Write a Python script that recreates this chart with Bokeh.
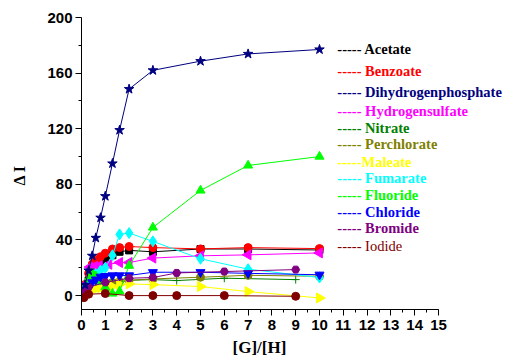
import math
from bokeh.plotting import figure
from bokeh.models import Range1d, FixedTicker, Label, Title
from bokeh.embed import file_html
from bokeh.resources import INLINE

# Equivalents of guest added, [G]/[H]
x_main = [0.15, 0.3, 0.45, 0.6, 0.8, 1.0, 1.3, 1.6, 2, 3, 5, 7, 10]
x_hso4 = [0.15, 0.35, 0.55, 0.75, 1.15, 1.6, 2, 3, 5, 7, 10]
x_halide = [0.1, 0.3, 1, 2, 3, 4, 6, 9]

# Fluorescence change, delta I
acetate = [6, 11, 15, 20, 23, 26, 29, 31.5, 32.5, 31.5, 33.5, 33.5, 32.8]
benzoate = [8, 16, 22.5, 25.5, 28, 30.5, 33.5, 34.5, 35.3, 34.5, 33.6, 34.5, 33.8]
dihydrogenphosphate = [7.7, 18, 28.6, 41.5, 56, 71.5, 95, 119, 148.5, 162, 168.6, 173.8, 177]
hydrogensulfate = [8, 20.5, 21, 21.5, 22.5, 23.8, 23.8, 27, 28.6, 29.3, 30.7]
nitrate = [1.5, 4, 7.5, 11, 11.5, 10.8, 12.5, 11.5]
perchlorate = [2, 4, 5.5, 7, 8, 9, 9.5, 10, 11, 12, 13.2, 14.6, 13.9]
maleate = [1.5, 3, 4, 5, 5.5, 6, 6.5, 8, 8.4, 7.9, 6.5, 2.9, -1.7]
fumarate = [6, 10.5, 13, 15.5, 18, 20, 29, 44, 45, 39, 26.5, 19, 13]
fluoride = [5, 12, 16, 14, 10, 6, 1.5, 3, 21.5, 49, 75.6, 93.6, 100]
chloride = [4, 7, 9.5, 11.5, 13.5, 14, 14.5, 14.5, 14.5, 16.8, 16.8, 16, 15]
bromide = [3, 6, 9.5, 12.5, 13, 16.3, 17.3, 18.7]
iodide = [-1.5, 1, 1.5, 0, 0, 0, 0, -0.5]

x_ticks = list(range(0, 16))
y_ticks = [0, 40, 80, 120, 160, 200]

# (label, x, y, colour, marker, size, angle)
series = [
    ("Acetate", x_main, acetate, "#000000", "square", 7, 0),
    ("Benzoate", x_main, benzoate, "#FF0000", "circle", 8, 0),
    ("Hydrogensulfate", x_hso4, hydrogensulfate, "#FF00FF", "triangle", 10, math.pi / 2),
    ("Nitrate", x_halide, nitrate, "#008000", "cross", 8, 0),
    ("Perchlorate", x_main, perchlorate, "#808000", "circle", 8, 0),
    ("Maleate", x_main, maleate, "#FFFF00", "triangle", 10, -math.pi / 2),
    ("Fumarate", x_main, fumarate, "#00FFFF", "diamond", 11, 0),
    ("Fluoride", x_main, fluoride, "#00FF00", "triangle", 9, 0),
    ("Chloride", x_main, chloride, "#0000FF", "inverted_triangle", 9, 0),
    ("Bromide", x_halide, bromide, "#800080", "hex", 8, 0),
    ("Iodide", x_halide, iodide, "#800000", "circle", 8, 0),
    ("Dihydrogenphosphate", x_main, dihydrogenphosphate, "#000080", "star", 10, 0),
]

# The frame runs to the right edge so the text legend has room;
# the x axis itself stops at 15.
x_end = 15 * (506 - 81) / (438 - 81)
p = figure(width=506, height=362, output_backend="svg", toolbar_location=None,
           x_range=Range1d(0, x_end), y_range=Range1d(-10, 200),
           min_border_left=81, min_border_right=0, min_border_top=17, min_border_bottom=53)
p.outline_line_color = None
p.grid.visible = False
p.background_fill_color = "white"
p.border_fill_color = "white"

for name, xs, ys, color, marker, size, angle in series:
    p.line(xs, ys, line_color=color, line_width=1)
    p.scatter(xs, ys, marker=marker, size=size, angle=angle,
              fill_color=color, line_color=color, line_width=1)

for ax in (p.xaxis[0], p.yaxis[0]):
    ax.axis_line_color = "black"
    ax.axis_line_width = 1
    ax.major_tick_out = 6
    ax.major_tick_in = 0
    ax.minor_tick_out = 3
    ax.minor_tick_in = 0
    ax.major_label_text_font = "Liberation Sans"
    ax.major_label_text_font_style = "bold"
    ax.major_label_text_font_size = "15px"
    ax.major_label_text_color = "black"

p.xaxis.bounds = (0, 15)
p.xaxis.ticker = FixedTicker(ticks=x_ticks, minor_ticks=[i / 2 for i in range(0, 31)])
p.yaxis.ticker = FixedTicker(ticks=y_ticks, minor_ticks=[20, 60, 100, 140, 180])
p.xaxis.major_label_standoff = 4
p.yaxis.major_label_standoff = 3

p.add_layout(Title(text="[G]/[H]", align="left", offset=151, standoff=7,
                   text_font="Liberation Serif", text_font_style="bold",
                   text_font_size="17px", text_color="black"), "below")
# blank spacer between the tick labels and the y-axis title
p.add_layout(Title(text=" ", standoff=0, text_font_size="13px"), "left")
p.add_layout(Title(text="\u0394 I", align="left", offset=124, standoff=0,
                   text_font="Liberation Serif", text_font_style="bold",
                   text_font_size="16px", text_color="black"), "left")

# Coloured text legend: label, prefix, colour, weight, y position
legend_rows = [
    ("Acetate", "----- ", "#000000", "bold", 177.5),
    ("Benzoate", "----- ", "#FF0000", "bold", 161.4),
    ("Dihydrogenphosphate", "----- ", "#000080", "bold", 146.3),
    ("Hydrogensulfate", "----- ", "#FF00FF", "bold", 133.1),
    ("Nitrate", "----- ", "#008000", "bold", 120.7),
    ("Perchlorate", "----- ", "#808000", "bold", 109.2),
    ("Maleate", "-----", "#FFFF00", "bold", 96.4),
    ("Fumarate", "----- ", "#00FFFF", "bold", 84.7),
    ("Fluoride", "----- ", "#00FF00", "bold", 72.5),
    ("Chloride", "----- ", "#0000FF", "bold", 60.0),
    ("Bromide", "----- ", "#800080", "bold", 48.8),
    ("Iodide", "----- ", "#800000", "normal", 36.0),
]
for name, prefix, color, weight, ly in legend_rows:
    p.add_layout(Label(x=10.75, y=ly, text=prefix + name,
                       text_align="left", text_baseline="middle",
                       text_font="Liberation Serif", text_font_style=weight,
                       text_font_size="14.5px", text_color=color))

open("out.html", "w").write(file_html(p, INLINE))
